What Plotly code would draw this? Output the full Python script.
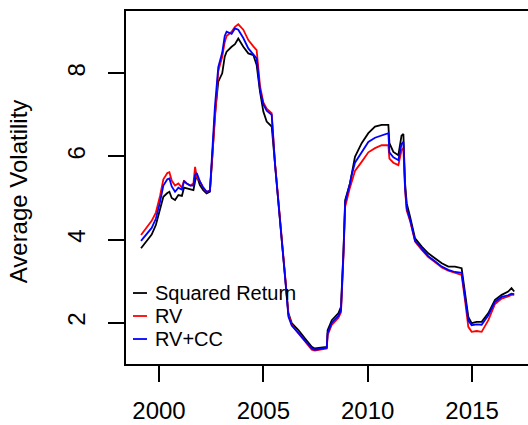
import plotly.graph_objects as go

dates = [1999.14, 1999.40, 1999.65, 1999.85, 2000.05, 2000.21, 2000.40, 2000.50, 2000.61, 2000.77,
         2000.93, 2001.10, 2001.20, 2001.33, 2001.50, 2001.65, 2001.73, 2001.81, 2001.96, 2002.12,
         2002.28, 2002.44, 2002.55, 2002.68, 2002.84, 2003.03, 2003.15, 2003.24, 2003.48, 2003.64,
         2003.80, 2004.04, 2004.28, 2004.52, 2004.68, 2004.84, 2005.00, 2005.16, 2005.40, 2005.56,
         2005.72, 2005.88, 2006.04, 2006.20, 2006.36, 2006.68, 2007.00, 2007.32, 2007.47, 2007.87,
         2008.04, 2008.08, 2008.28, 2008.60, 2008.72, 2008.84, 2008.92, 2009.15, 2009.23, 2009.39,
         2009.71, 2010.03, 2010.35, 2010.67, 2010.99, 2011.04, 2011.23, 2011.47, 2011.62, 2011.71,
         2011.79, 2011.87, 2012.03, 2012.27, 2012.59, 2012.90, 2013.22, 2013.55, 2013.86, 2014.18,
         2014.50, 2014.66, 2014.82, 2014.98, 2015.22, 2015.46, 2015.78, 2016.10, 2016.42, 2016.73,
         2016.89, 2017.02]

squared_return = [3.79, 3.95, 4.12, 4.35, 4.75, 5.03, 5.12, 5.15, 5.00, 4.95,
                  5.07, 5.05, 5.25, 5.23, 5.20, 5.19, 5.40, 5.55, 5.31, 5.19,
                  5.11, 5.15, 5.95, 7.00, 7.80, 8.00, 8.40, 8.52, 8.64, 8.70,
                  8.84, 8.64, 8.48, 8.44, 8.20, 7.56, 7.08, 6.84, 6.72, 5.75,
                  4.95, 3.99, 3.11, 2.23, 1.99, 1.82, 1.62, 1.42, 1.38, 1.41,
                  1.42, 1.82, 2.06, 2.23, 2.38, 3.75, 4.95, 5.35, 5.60, 5.99,
                  6.32, 6.56, 6.72, 6.76, 6.76, 6.32, 6.11, 6.03, 6.50, 6.54,
                  5.36, 4.87, 4.55, 4.03, 3.83, 3.67, 3.55, 3.43, 3.35, 3.35,
                  3.31, 2.71, 2.14, 1.99, 2.02, 2.02, 2.23, 2.55, 2.67, 2.75,
                  2.83, 2.75]

rv = [4.11, 4.28, 4.45, 4.65, 5.05, 5.45, 5.60, 5.62, 5.42, 5.30,
      5.35, 5.25, 5.42, 5.35, 5.30, 5.35, 5.75, 5.50, 5.40, 5.25,
      5.15, 5.18, 6.00, 7.10, 8.05, 8.40, 8.75, 8.90, 9.00, 9.12,
      9.18, 9.05, 8.80, 8.65, 8.56, 7.70, 7.30, 7.15, 7.04, 5.85,
      5.00, 4.05, 3.15, 2.20, 1.95, 1.75, 1.55, 1.35, 1.33, 1.36,
      1.38, 1.70, 1.95, 2.12, 2.25, 3.60, 4.79, 5.25, 5.40, 5.65,
      5.87, 6.10, 6.20, 6.27, 6.27, 5.95, 5.85, 5.79, 6.15, 6.20,
      5.20, 4.70, 4.45, 3.95, 3.75, 3.58, 3.46, 3.33, 3.25, 3.20,
      3.15, 2.55, 1.90, 1.78, 1.80, 1.78, 2.06, 2.45, 2.58, 2.63,
      2.67, 2.67]

rv_cc = [3.97, 4.12, 4.28, 4.50, 4.90, 5.30, 5.45, 5.47, 5.28, 5.15,
         5.25, 5.20, 5.40, 5.35, 5.30, 5.30, 5.55, 5.60, 5.40, 5.25,
         5.15, 5.17, 6.05, 7.20, 8.15, 8.50, 8.90, 9.00, 8.95, 9.08,
         9.05, 8.85, 8.60, 8.45, 8.36, 7.60, 7.25, 7.10, 7.00, 5.80,
         4.95, 4.00, 3.10, 2.15, 1.93, 1.75, 1.57, 1.38, 1.35, 1.38,
         1.40, 1.75, 2.00, 2.17, 2.30, 3.70, 4.90, 5.35, 5.55, 5.85,
         6.10, 6.35, 6.45, 6.50, 6.56, 6.10, 5.98, 5.91, 6.30, 6.35,
         5.25, 4.75, 4.48, 3.97, 3.77, 3.60, 3.48, 3.35, 3.27, 3.22,
         3.20, 2.65, 2.05, 1.94, 1.96, 1.95, 2.18, 2.50, 2.62, 2.66,
         2.70, 2.69]

series_names = ["Squared Return", "RV", "RV+CC"]
series_colors = ["black", "red", "blue"]
x_ticks = [2000, 2005, 2010, 2015]
y_ticks = [2, 4, 6, 8]

FONT = "Liberation Sans, Arial, Helvetica, sans-serif"

fig = go.Figure()
for name, vals, col in zip(series_names, [squared_return, rv, rv_cc], series_colors):
    fig.add_trace(go.Scatter(x=dates, y=vals, mode="lines", name=name,
                             line=dict(color=col, width=1.8), showlegend=False))

# manual legend (R style, short line segments)
leg_y = [0.2011, 0.1360, 0.0708]
for name, col, yy in zip(series_names, series_colors, leg_y):
    fig.add_shape(type="line", xref="paper", yref="paper", x0=0.0174, x1=0.0522,
                  y0=yy, y1=yy, line=dict(color=col, width=1.8))
    fig.add_annotation(xref="paper", yref="paper", x=0.0672, y=yy, text=name,
                       showarrow=False, xanchor="left", yanchor="middle",
                       font=dict(family=FONT, size=20, color="black"))

fig.add_annotation(xref="paper", yref="paper", x=-0.268, y=0.49,
                   text="Average Volatility", textangle=-90, showarrow=False,
                   xanchor="center", yanchor="middle",
                   font=dict(family=FONT, size=24, color="black"))

fig.update_layout(
    width=528, height=425,
    margin=dict(l=126, r=0, t=11, b=61),
    paper_bgcolor="white", plot_bgcolor="white",
    font=dict(family=FONT, size=24, color="black"),
    xaxis=dict(range=[1998.42, 2017.68], tickvals=x_ticks, ticktext=[str(v) for v in x_ticks],
               ticks="outside", ticklen=16, tickwidth=1.5, tickcolor="black",
               showline=True, linecolor="black", linewidth=2, mirror=True,
               showgrid=False, zeroline=False, ticklabelstandoff=8,
               tickfont=dict(family=FONT, size=24)),
    yaxis=dict(range=[1.006, 9.50], tickvals=y_ticks, ticktext=[str(v) for v in y_ticks],
               ticks="outside", ticklen=16, tickwidth=1.5, tickcolor="black",
               showline=True, linecolor="black", linewidth=2, mirror=False,
               showgrid=False, zeroline=False, tickangle=-90, ticklabelstandoff=13,
               tickfont=dict(family=FONT, size=24)),
)

fig.write_html("out.html", config={"displayModeBar": False},
               post_script="document.body.style.margin='0';document.body.style.overflow='hidden';")
